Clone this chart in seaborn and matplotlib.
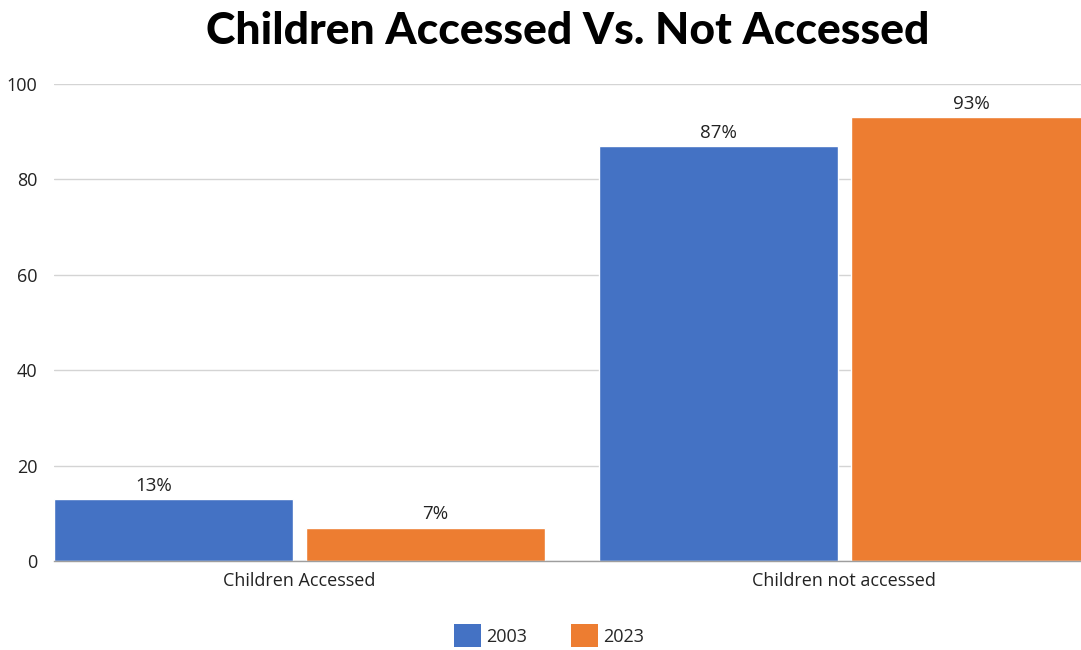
import matplotlib
matplotlib.use("Agg")
import matplotlib.pyplot as plt
import seaborn as sns
import pandas as pd
from matplotlib.patches import Patch

categories = ["Children Accessed", "Children not accessed"]
years = ["2003", "2023"]
values_2003 = [13, 87]
values_2023 = [7, 93]
y_ticks = [0, 20, 40, 60, 80, 100]

df = pd.DataFrame({
    "category": categories * 2,
    "year": [years[0]] * 2 + [years[1]] * 2,
    "value": values_2003 + values_2023,
})

colors = {"2003": "#4472C4", "2023": "#ED7D31"}

sns.set_theme(style="white")
plt.rcParams["font.family"] = ["Open Sans", "DejaVu Sans"]

fig = plt.figure(figsize=(10.81, 6.5), dpi=100)
ax = fig.add_axes([54 / 1081, 89 / 650, 1 - 54 / 1081, 477 / 650])

sns.barplot(data=df, x="category", y="value", hue="year", palette=colors,
            width=0.926, gap=0.052, saturation=1, ax=ax, legend=False)

# horizontal nudges (points) for the value labels, per series and category
label_shift = [[-14.4, 0.0], [7.2, 1.0]]
for container, shifts in zip(ax.containers, label_shift):
    texts = ax.bar_label(container, labels=[f"{v:.0f}%" for v in container.datavalues],
                         padding=3, fontsize=13.5, color="#222222")
    for t, dx in zip(texts, shifts):
        x0, y0 = t.xyann
        t.xyann = (x0 + dx, y0)

ax.set_ylim(0, 100)
ax.set_xlim(-0.451, 1.435)
ax.set_yticks(y_ticks)
ax.yaxis.grid(True, color="#d4d4d4", linewidth=1)
ax.set_axisbelow(True)
for side in ["top", "right", "left"]:
    ax.spines[side].set_visible(False)
ax.spines["bottom"].set_color("#9e9e9e")
ax.spines["bottom"].set_linewidth(1)
ax.tick_params(axis="y", length=0, pad=12, labelsize=13, labelcolor="#222222")
ax.tick_params(axis="x", length=0, pad=8, labelsize=13, labelcolor="#222222")
ax.set_xlabel("")
ax.set_ylabel("")

fig.text(0.525, 0.952, "Children Accessed Vs. Not Accessed", ha="center", va="center",
         fontsize=32, fontweight="black", color="#000000", family=["Lato", "DejaVu Sans"])

handles = [Patch(facecolor=colors[y], edgecolor="none") for y in years]
fig.legend(handles, years, loc="center", bbox_to_anchor=(0.508, 0.022), ncol=2,
           frameon=False, fontsize=13, handlelength=1.5, handleheight=1.6,
           handletextpad=0.3, columnspacing=2.4)

fig.savefig("out.png", dpi=100)
